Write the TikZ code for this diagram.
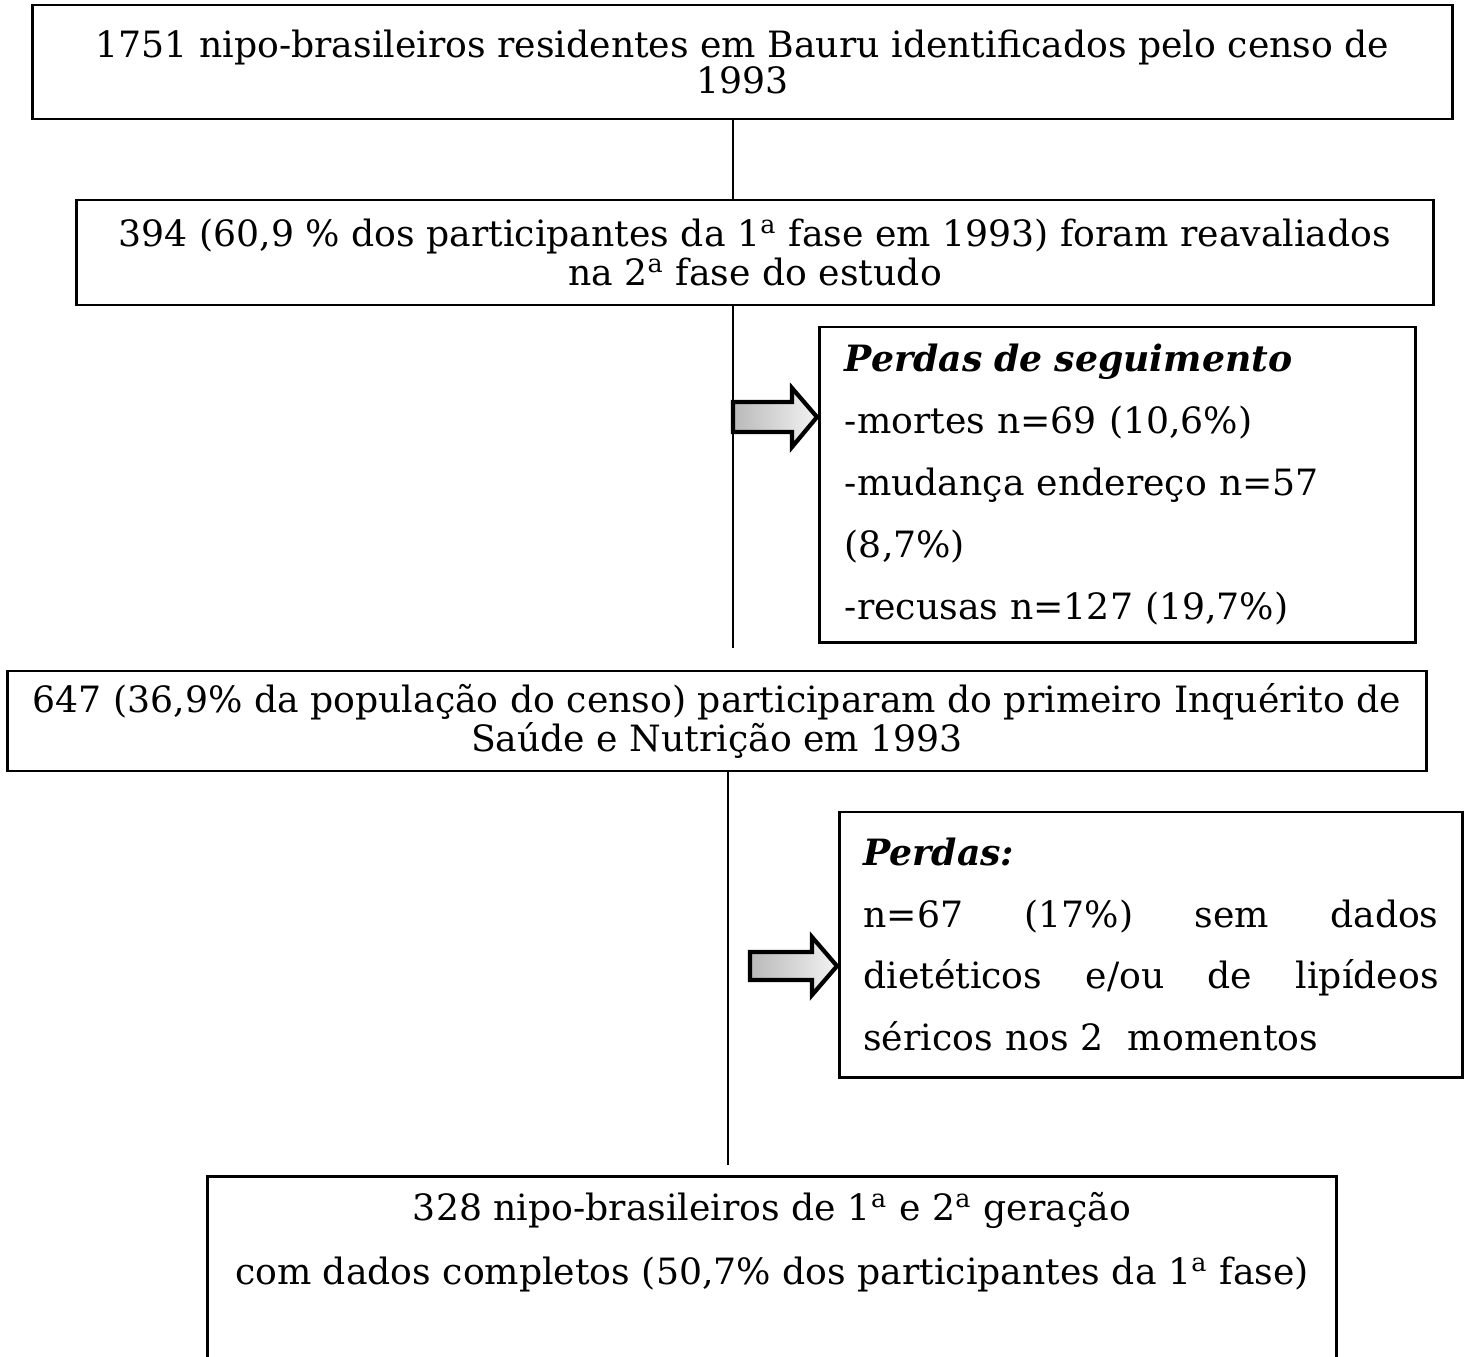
\documentclass[tikz,border=0pt]{standalone}
\usepackage{fontspec}
\setmainfont{DejaVu Serif}

\begin{document}
\begin{tikzpicture}[x=0.01cm, y=-0.01cm, line width=0.8pt]
\tikzstyle{box}=[draw, rectangle, inner sep=0pt, align=center, font=\fontsize{10.3}{11.2}\selectfont]
\tikzstyle{lossbox}=[draw, rectangle, inner xsep=0.25cm, inner ysep=0pt, align=left, font=\fontsize{10.3}{17.6}\selectfont]
\tikzstyle{blockarrow}=[draw, line width=1.2pt, line join=miter, left color=gray!55, right color=gray!10]
\useasboundingbox (0,0) rectangle (1469,1356);
\clip (0,0) rectangle (1469,1356);

\node[box, minimum width=14.19cm, minimum height=1.14cm, font=\fontsize{10.3}{10}\selectfont] (census) at (742.5,62)
  {1751 nipo-brasileiros residentes em Bauru identificados pelo censo de\\ 1993};
\node[box, minimum width=13.56cm, minimum height=1.05cm] (phase2) at (755,252.5)
  {394 (60,9 \% dos participantes da 1\textsuperscript{a} fase em 1993) foram reavaliados\\ na 2\textsuperscript{a} fase do estudo};
\node[lossbox, minimum width=5.95cm, minimum height=3.15cm, text width=5.45cm] (followup) at (1117.5,484.5)
  {\textbf{\textit{Perdas de seguimento}}\\
   -mortes n=69 (10,6\%)\\
   -mudança endereço n=57\\
   (8,7\%)\\
   -recusas n=127 (19,7\%)};
\node[box, minimum width=14.18cm, minimum height=1.00cm] (phase1) at (717,721)
  {647 (36,9\% da população do censo) participaram do primeiro Inquérito de\\ Saúde e Nutrição em 1993};
\node[lossbox, minimum width=6.22cm, minimum height=2.65cm, text width=5.75cm, inner xsep=0.235cm] (losses) at (1151,944.5)
  {\textbf{\textit{Perdas:}}\\
   \makebox[5.75cm][s]{n=67\hfill(17\%)\hfill sem\hfill dados}\\
   \makebox[5.75cm][s]{dietéticos\hfill e/ou\hfill de\hfill lipídeos}\\
   séricos nos 2~~momentos};
\node[box, anchor=north, minimum width=11.28cm, inner ysep=0.16cm, font=\fontsize{10.3}{18.2}\selectfont] (final) at (772,1175)
  {328 nipo-brasileiros de 1\textsuperscript{a} e 2\textsuperscript{a} geração\\
   com dados completos (50,7\% dos participantes da 1\textsuperscript{a} fase)\\ ~\\ ~};

% trunk
\coordinate (t1) at (733,0);
\coordinate (t2) at (728,0);
\draw (census.south -| t1) -- (phase2.north -| t1);
\draw[shorten >=0.22cm] (phase2.south -| t1) -- (phase1.north -| t1);
\draw[shorten >=0.1cm] (phase1.south -| t2) -- (final.north -| t2);

% block arrows
\draw[blockarrow] (733,402) -- (792,402) -- (792,388) -- (817,417) -- (792,447) -- (792,432) -- (733,432) -- cycle;
\draw[blockarrow] (750,952) -- (812,952) -- (812,937) -- (837,966) -- (812,995) -- (812,980) -- (750,980) -- cycle;
\end{tikzpicture}
\end{document}
